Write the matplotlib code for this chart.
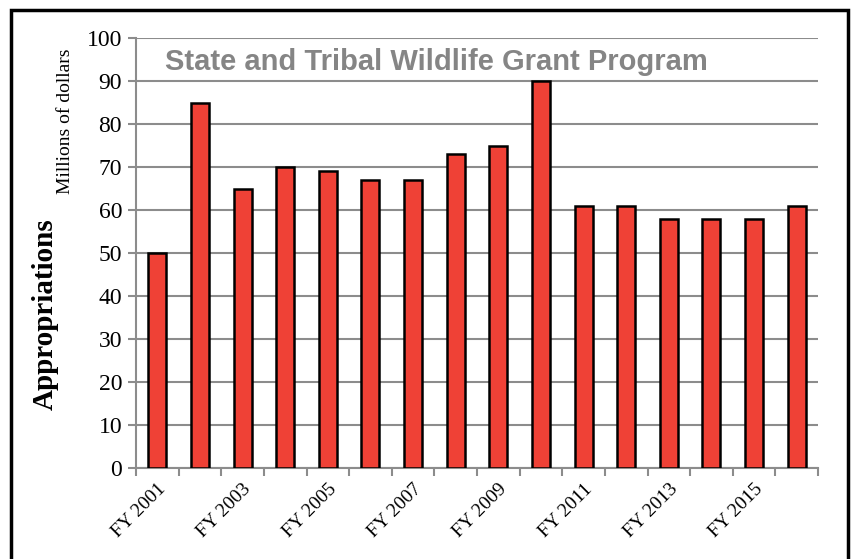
import matplotlib
matplotlib.use("Agg")
import matplotlib.pyplot as plt
import numpy as np
from matplotlib.patches import Rectangle

years = ["FY 2001", "FY 2002", "FY 2003", "FY 2004", "FY 2005", "FY 2006", "FY 2007", "FY 2008",
         "FY 2009", "FY 2010", "FY 2011", "FY 2012", "FY 2013", "FY 2014", "FY 2015", "FY 2016"]
appropriations = [50, 85, 65, 70, 69, 67, 67, 73, 75, 90, 61, 61, 58, 58, 58, 61]
yticks = [0, 10, 20, 30, 40, 50, 60, 70, 80, 90, 100]

serif = "Liberation Serif"
sans = "Liberation Sans"
grid_gray = "#8c8c8c"

fig = plt.figure(figsize=(8.53, 5.59), dpi=100)
W, H = 853, 559
ax = fig.add_axes([136 / W, 1 - 468 / H, (818 - 136) / W, (468 - 38) / H])

x = np.arange(len(years))
ax.bar(x, appropriations, width=0.42, color="#ef4136", edgecolor="black", linewidth=1.8, zorder=3)

ax.set_xlim(-0.5, len(years) - 0.5)
ax.set_ylim(0, 100)
ax.set_yticks(yticks)
ax.set_yticklabels([str(v) for v in yticks], fontfamily=serif, fontsize=17)
ax.yaxis.grid(True, color=grid_gray, linewidth=1.5, zorder=0)

# category boundary ticks, labels every second year
ax.set_xticks(np.arange(len(years) + 1) - 0.5, minor=False)
ax.set_xticklabels([])
ax.set_xticks(x[::2], minor=True)
ax.set_xticklabels(years[::2], minor=True, rotation=45, ha="right", va="top",
                   rotation_mode="anchor", fontfamily=serif, fontsize=14)
ax.tick_params(axis="x", which="minor", length=0, pad=9)
ax.tick_params(axis="x", which="major", length=6, width=1.5, color=grid_gray)
ax.tick_params(axis="y", length=6, width=1.5, color=grid_gray, pad=4)

for side in ["top", "right"]:
    ax.spines[side].set_visible(False)
for side in ["left", "bottom"]:
    ax.spines[side].set_color(grid_gray)
    ax.spines[side].set_linewidth(1.5)

ax.text(0.042, 0.945, "State and Tribal Wildlife Grant Program", transform=ax.transAxes,
        fontfamily=sans, fontweight="bold", fontsize=21, color="#858585", va="center", ha="left")

fig.text(66 / W, 1 - 121 / H, "Millions of dollars", rotation=90, fontfamily=serif, fontsize=14,
         ha="center", va="center")
fig.text(45 / W, 1 - 314 / H, "Appropriations", rotation=90, fontfamily=serif, fontsize=21,
         fontweight="bold", ha="center", va="center")

# outer frame
fig.patches.append(Rectangle((11 / W, -0.02), (848 - 11) / W, 1 - 10 / H + 0.02,
                             transform=fig.transFigure, fill=False, edgecolor="black",
                             linewidth=2.5))

fig.savefig("out.png", dpi=100)
